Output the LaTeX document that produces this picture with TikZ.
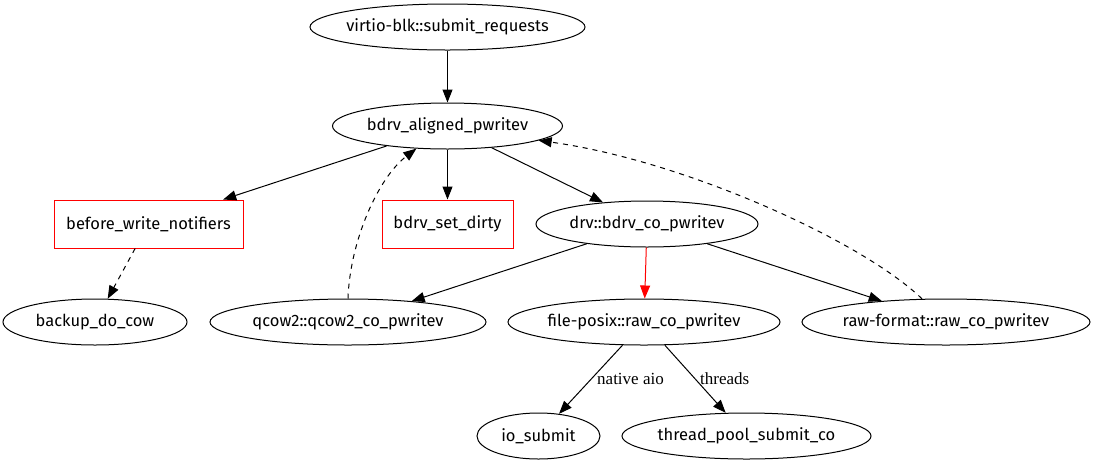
\documentclass[tikz,border=0pt]{standalone}
\usepackage{fontspec}
\setmainfont{Fira Sans}
\newfontfamily\lblfont{Liberation Serif}
\usetikzlibrary{arrows.meta,shapes.geometric,positioning}
\newcommand{\fname}[1]{\makebox[0pt]{#1}}

\begin{document}
\begin{tikzpicture}[x=1pt,y=-1pt,%the write path of a block request
  fn/.style={draw,ellipse,line width=1pt,minimum height=46pt,inner sep=0pt,font=\fontsize{16.5}{18}\selectfont},
  hook/.style={draw=red,rectangle,line width=1pt,minimum height=48pt,inner sep=0pt,font=\fontsize{16.5}{18}\selectfont},
  call/.style={line width=1pt,->},
  indirect/.style={call,dash pattern=on 5pt off 5pt},
  lbl/.style={font=\lblfont\fontsize{17}{18}\selectfont,inner sep=0pt},
  >={Triangle[length=13pt,width=10pt]}]
\useasboundingbox (0,0) rectangle (1096,467);
%top of the stack
\node[fn,minimum width=275pt] (virtio) at (447.5,27) {\fname{virtio-blk::submit\_requests}};
\node[fn,minimum width=230pt] (aligned) at (447.5,126) {\fname{bdrv\_aligned\_pwritev}};
%notifiers and dirty bitmap, drawn as boxes
\node[hook,minimum width=189pt] (notifiers) at (148.5,224) {\fname{before\_write\_notifiers}};
\node[hook,minimum width=131pt] (dirty) at (447.5,224) {\fname{bdrv\_set\_dirty}};
\node[fn,minimum width=222pt] (drv) at (647,224) {\fname{drv::bdrv\_co\_pwritev}};
%driver level
\node[fn,minimum width=184pt] (cow) at (95,322) {\fname{backup\_do\_cow}};
\node[fn,minimum width=276pt] (qcow2) at (348,322) {\fname{qcow2::qcow2\_co\_pwritev}};
\node[fn,minimum width=272pt] (posix) at (644,322) {\fname{file-posix::raw\_co\_pwritev}};
\node[fn,minimum width=288pt] (rawfmt) at (946,322) {\fname{raw-format::raw\_co\_pwritev}};
%submission
\node[fn,minimum width=123pt] (iosub) at (538.5,436) {\fname{io\_submit}};
\node[fn,minimum width=249pt] (pool) at (746.5,436) {\fname{thread\_pool\_submit\_co}};
%calls
\draw[call] (virtio) -- (aligned);
\draw[call] (aligned) -- (notifiers); \draw[call] (aligned) -- (dirty); \draw[call] (aligned) -- (drv);
\draw[indirect] (notifiers) -- (cow);
\draw[call] (drv) -- (qcow2); \draw[call,red] (drv) -- (posix); \draw[call] (drv) -- (rawfmt);
%back into the generic layer
\draw[indirect] (qcow2.north) .. controls +(2,-58) and +(-38,29) .. (aligned.216);
\draw[indirect] (rawfmt.136) .. controls +(-60,-58) and +(145,20) .. (aligned.-9);
%aio or thread pool
\draw[call] (posix) -- (iosub); \node[lbl,anchor=west] (aio) at (597,379) {native aio};
\draw[call] (posix) -- (pool); \node[lbl,anchor=west] (thr) at (700,379) {threads};
\end{tikzpicture}
\end{document}
